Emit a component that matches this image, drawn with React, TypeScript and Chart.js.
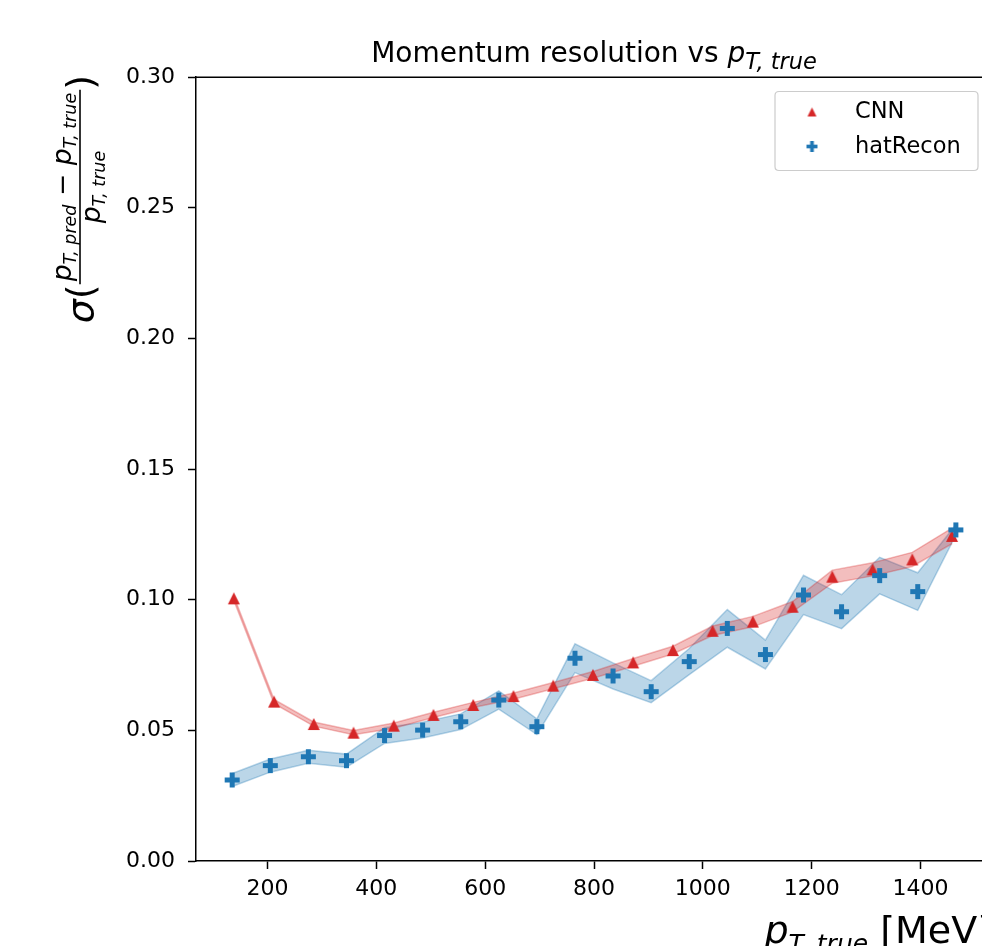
import React, { useEffect, useRef } from 'react';
import { Chart, registerables } from 'chart.js';

Chart.register(...registerables);

// ---- data ----
const cnnX = [138, 212, 285, 358, 432, 505, 578, 652, 725, 798, 872, 945, 1018, 1092, 1165, 1238, 1312, 1385, 1458];
const cnnY = [0.1005, 0.0610, 0.0524, 0.0491, 0.0518, 0.0559, 0.0597, 0.0631, 0.0671, 0.0712, 0.0760, 0.0807, 0.0881, 0.0916, 0.0973, 0.1088, 0.1116, 0.1154, 0.1244];
const cnnHigh = [0.1013, 0.0618, 0.0532, 0.0499, 0.0528, 0.0569, 0.0607, 0.0643, 0.0683, 0.0725, 0.0775, 0.0822, 0.0899, 0.0936, 0.0993, 0.1113, 0.1141, 0.1181, 0.1274];
const cnnLow = [0.0997, 0.0602, 0.0516, 0.0483, 0.0508, 0.0549, 0.0587, 0.0619, 0.0659, 0.0699, 0.0745, 0.0792, 0.0863, 0.0896, 0.0953, 0.1063, 0.1091, 0.1127, 0.1214];

const recoX = [135, 205, 275, 345, 415, 485, 555, 625, 695, 765, 835, 905, 975, 1045, 1115, 1185, 1255, 1325, 1395, 1465];
const recoY = [0.0310, 0.0365, 0.0399, 0.0384, 0.0480, 0.0501, 0.0533, 0.0616, 0.0514, 0.0776, 0.0708, 0.0648, 0.0763, 0.0890, 0.0790, 0.1018, 0.0954, 0.1092, 0.1031, 0.1267];
const recoHigh = [0.0335, 0.0390, 0.0424, 0.0409, 0.0510, 0.0531, 0.0563, 0.0651, 0.0544, 0.0831, 0.0758, 0.0690, 0.0813, 0.0962, 0.0845, 0.1093, 0.1019, 0.1162, 0.1103, 0.1287];
const recoLow = [0.0285, 0.0340, 0.0374, 0.0359, 0.0450, 0.0471, 0.0503, 0.0581, 0.0484, 0.0721, 0.0658, 0.0606, 0.0713, 0.0818, 0.0735, 0.0943, 0.0889, 0.1022, 0.0959, 0.1247];

const xTicks = [200, 400, 600, 800, 1000, 1200, 1400];
const yTicks = [0, 0.05, 0.1, 0.15, 0.2, 0.25, 0.3];
const xRange = [68.5, 1531.5];
const yRange = [0, 0.3];

const seriesNames = ['CNN', 'hatRecon'];
const titleText = 'Momentum resolution vs ';

const FONT = "'DejaVu Sans', sans-serif";
const RED = '#d62728';
const BLUE = '#1f77b4';

function makeTriangle(size: number, color: string) {
  const c = document.createElement('canvas');
  const pad = 1;
  c.width = size + 2 * pad;
  c.height = size + 2 * pad;
  const g = c.getContext('2d')!;
  g.fillStyle = color;
  g.beginPath();
  g.moveTo(pad + size / 2, pad);
  g.lineTo(pad + size, pad + size);
  g.lineTo(pad, pad + size);
  g.closePath();
  g.fill();
  return c;
}

function makePlus(size: number, color: string) {
  const c = document.createElement('canvas');
  const pad = 1;
  c.width = size + 2 * pad;
  c.height = size + 2 * pad;
  const g = c.getContext('2d')!;
  g.fillStyle = color;
  const t = size / 3;
  g.fillRect(pad, pad + t, size, t);
  g.fillRect(pad + t, pad, t, size);
  return c;
}

type Run = { text: string; font: string; dy: number };

function runsWidth(ctx: CanvasRenderingContext2D, runs: Run[]) {
  let w = 0;
  for (const r of runs) {
    ctx.font = r.font;
    w += ctx.measureText(r.text).width;
  }
  return w;
}

function drawRuns(ctx: CanvasRenderingContext2D, runs: Run[], x: number, y: number) {
  let cx = x;
  for (const r of runs) {
    ctx.font = r.font;
    ctx.fillText(r.text, cx, y + r.dy);
    cx += ctx.measureText(r.text).width;
  }
  return cx;
}

const decorPlugin = {
  id: 'decor',
  afterDraw(chart: any) {
    const ctx: CanvasRenderingContext2D = chart.ctx;
    const a = chart.chartArea;
    ctx.save();
    // top / right spines
    ctx.strokeStyle = '#000';
    ctx.lineWidth = 1.5;
    ctx.beginPath();
    ctx.moveTo(a.left, Math.round(a.top) + 0.25);
    ctx.lineTo(a.right, Math.round(a.top) + 0.25);
    ctx.lineTo(a.right, a.bottom);
    ctx.stroke();

    ctx.fillStyle = '#000';
    ctx.textBaseline = 'alphabetic';
    ctx.textAlign = 'left';

    // title
    const tRuns: Run[] = [
      { text: titleText, font: `28px ${FONT}`, dy: 0 },
      { text: 'p', font: `italic 28px ${FONT}`, dy: 0 },
      { text: 'T, true', font: `italic 22.5px ${FONT}`, dy: 7 },
    ];
    const tw = runsWidth(ctx, tRuns);
    drawRuns(ctx, tRuns, (a.left + a.right) / 2 - tw / 2, 62);

    // x label (right aligned to axes)
    const xRuns: Run[] = [
      { text: 'p', font: `italic 38px ${FONT}`, dy: 0 },
      { text: 'T, true', font: `italic 25px ${FONT}`, dy: 9 },
      { text: ' [MeV]', font: `38px ${FONT}`, dy: 0 },
    ];
    const xw = runsWidth(ctx, xRuns);
    drawRuns(ctx, xRuns, a.right - xw, 943);

    // y label (rotated, aligned to top of axes)
    ctx.save();
    ctx.translate(80, a.top);
    ctx.rotate(-Math.PI / 2);
    const big = `38px ${FONT}`;
    const bigIt = `italic 38px ${FONT}`;
    const mid = `26.6px ${FONT}`;
    const midIt = `italic 26.6px ${FONT}`;
    const smIt = `italic 17.5px ${FONT}`;
    const numRuns: Run[] = [
      { text: 'p', font: midIt, dy: 0 },
      { text: 'T, pred', font: smIt, dy: 5 },
      { text: ' \u2212 ', font: mid, dy: 0 },
      { text: 'p', font: midIt, dy: 0 },
      { text: 'T, true', font: smIt, dy: 5 },
    ];
    const denRuns: Run[] = [
      { text: 'p', font: midIt, dy: 0 },
      { text: 'T, true', font: smIt, dy: 5 },
    ];
    ctx.font = bigIt;
    const sw = ctx.measureText('\u03c3').width;
    ctx.font = big;
    const pw = ctx.measureText('(').width;
    const nw = runsWidth(ctx, numRuns);
    const dw = runsWidth(ctx, denRuns);
    const fw = Math.max(nw, dw) + 6;
    const L = sw + pw + fw + pw;
    let u = -L + 2;
    const base = 13;
    ctx.font = bigIt;
    ctx.fillText('\u03c3', u, base);
    u += sw;
    ctx.font = big;
    ctx.fillText('(', u, base);
    u += pw;
    // fraction
    drawRuns(ctx, numRuns, u + (fw - nw) / 2, -9);
    drawRuns(ctx, denRuns, u + (fw - dw) / 2, 20);
    ctx.lineWidth = 1.6;
    ctx.beginPath();
    ctx.moveTo(u, 0);
    ctx.lineTo(u + fw, 0);
    ctx.stroke();
    u += fw;
    ctx.font = big;
    ctx.fillText(')', u, base);
    ctx.restore();

    // legend
    const lr = a.right - 14;
    const ll = lr - 203;
    const lt = 91.5;
    const lb = 170.5;
    const rad = 4;
    ctx.beginPath();
    ctx.moveTo(ll + rad, lt);
    ctx.lineTo(lr - rad, lt);
    ctx.quadraticCurveTo(lr, lt, lr, lt + rad);
    ctx.lineTo(lr, lb - rad);
    ctx.quadraticCurveTo(lr, lb, lr - rad, lb);
    ctx.lineTo(ll + rad, lb);
    ctx.quadraticCurveTo(ll, lb, ll, lb - rad);
    ctx.lineTo(ll, lt + rad);
    ctx.quadraticCurveTo(ll, lt, ll + rad, lt);
    ctx.closePath();
    ctx.fillStyle = 'rgba(255,255,255,0.8)';
    ctx.fill();
    ctx.strokeStyle = '#cccccc';
    ctx.lineWidth = 1.2;
    ctx.stroke();

    const tri = makeTriangle(9, RED);
    const plus = makePlus(11, BLUE);
    ctx.drawImage(tri, ll + 37 - tri.width / 2, 112 - tri.height / 2);
    ctx.drawImage(plus, ll + 37 - plus.width / 2, 146.5 - plus.height / 2);
    ctx.fillStyle = '#000';
    ctx.font = `22.5px ${FONT}`;
    ctx.fillText(seriesNames[0], ll + 80, 118);
    ctx.fillText(seriesNames[1], ll + 80, 153);
    ctx.restore();
  },
};

export default function App() {
  const ref = useRef<HTMLCanvasElement>(null);

  useEffect(() => {
    const canvas = ref.current!;
    const triMarker = makeTriangle(12, RED);
    const plusMarker = makePlus(15, BLUE);
    const pts = (xs: number[], ys: number[]) => xs.map((x, i) => ({ x, y: ys[i] }));

    const tickFont = { family: FONT, size: 22 };
    const chart = new Chart(canvas, {
      type: 'line',
      data: {
        datasets: [
          {
            label: 'hatRecon band high',
            data: pts(recoX, recoHigh),
            borderColor: 'rgba(31,119,180,0.3)',
            borderWidth: 1.5,
            pointRadius: 0,
            fill: false,
            tension: 0,
            order: 3,
          },
          {
            label: 'hatRecon band low',
            data: pts(recoX, recoLow),
            borderColor: 'rgba(31,119,180,0.3)',
            backgroundColor: 'rgba(31,119,180,0.3)',
            borderWidth: 1.5,
            pointRadius: 0,
            fill: '-1',
            tension: 0,
            order: 3,
          },
          {
            label: 'CNN band high',
            data: pts(cnnX, cnnHigh),
            borderColor: 'rgba(214,39,40,0.3)',
            borderWidth: 1.5,
            pointRadius: 0,
            fill: false,
            tension: 0,
            order: 2,
          },
          {
            label: 'CNN band low',
            data: pts(cnnX, cnnLow),
            borderColor: 'rgba(214,39,40,0.3)',
            backgroundColor: 'rgba(214,39,40,0.3)',
            borderWidth: 1.5,
            pointRadius: 0,
            fill: '-1',
            tension: 0,
            order: 2,
          },
          {
            label: seriesNames[0],
            data: pts(cnnX, cnnY),
            showLine: false,
            pointStyle: triMarker as any,
            pointRadius: 6,
            order: 1,
          },
          {
            label: seriesNames[1],
            data: pts(recoX, recoY),
            showLine: false,
            pointStyle: plusMarker as any,
            pointRadius: 7,
            order: 0,
          },
        ],
      },
      options: {
        animation: false,
        responsive: false,
        devicePixelRatio: 1,
        events: [],
        layout: { padding: { left: 0, right: 8, top: 77, bottom: 0 } },
        plugins: {
          legend: { display: false },
          tooltip: { enabled: false },
          title: { display: false },
        },
        scales: {
          x: {
            type: 'linear',
            min: xRange[0],
            max: xRange[1],
            afterBuildTicks: (s: any) => {
              s.ticks = xTicks.map((v) => ({ value: v }));
            },
            afterFit: (s: any) => {
              s.height = 85;
            },
            grid: {
              display: true,
              drawOnChartArea: false,
              drawTicks: true,
              tickLength: 8,
              tickWidth: 1.5,
              tickColor: '#000',
            },
            border: { display: true, color: '#000', width: 1.5 },
            ticks: {
              color: '#000',
              font: tickFont,
              padding: 7,
              maxRotation: 0,
              autoSkip: false,
              callback: (v: any) => String(v),
            },
          },
          y: {
            type: 'linear',
            min: yRange[0],
            max: yRange[1],
            afterBuildTicks: (s: any) => {
              s.ticks = yTicks.map((v) => ({ value: v }));
            },
            afterFit: (s: any) => {
              s.width = 196;
            },
            grid: {
              display: true,
              drawOnChartArea: false,
              drawTicks: true,
              tickLength: 8,
              tickWidth: 1.5,
              tickColor: '#000',
            },
            border: { display: true, color: '#000', width: 1.5 },
            ticks: {
              color: '#000',
              font: tickFont,
              padding: 13,
              autoSkip: false,
              callback: (v: any) => Number(v).toFixed(2),
            },
          },
        },
      },
      plugins: [decorPlugin],
    } as any);
    return () => chart.destroy();
  }, []);

  return (
    <div
      style={{
        position: 'fixed',
        left: 0,
        top: 0,
        width: 982,
        height: 946,
        overflow: 'hidden',
        background: '#fff',
      }}
    >
      <canvas ref={ref} width={1000} height={946} style={{ display: 'block', width: 1000, height: 946 }} />
    </div>
  );
}
